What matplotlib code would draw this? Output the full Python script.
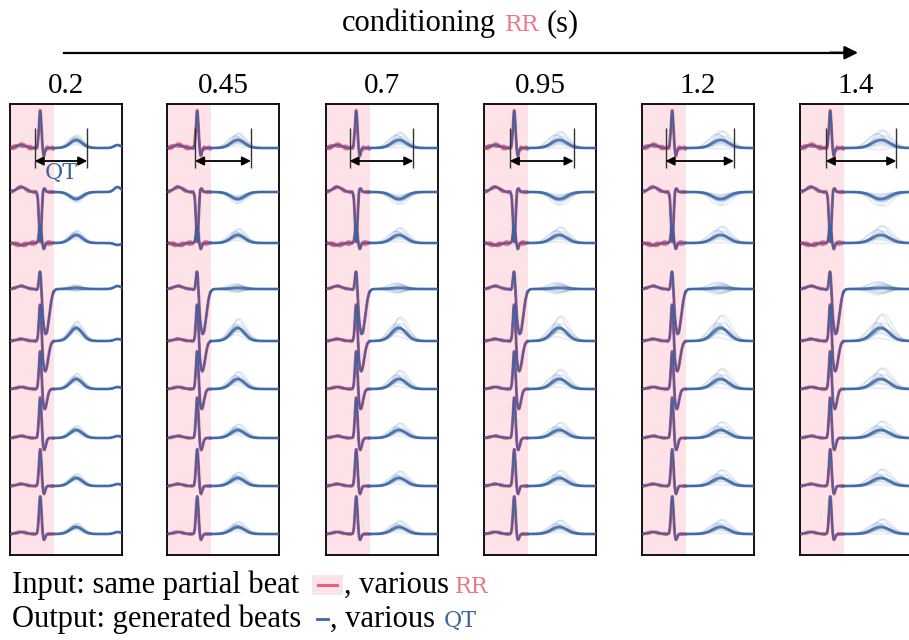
import numpy as np
import matplotlib
matplotlib.use("Agg")
import matplotlib.pyplot as plt
from matplotlib.lines import Line2D
from matplotlib.patches import Rectangle

W, H = 909, 640

# conditioning RR values, one panel each
rr_values = ["0.2", "0.45", "0.7", "0.95", "1.2", "1.4"]
# QT bracket (fraction of panel width) and T-wave peak position per panel
qt_start = [0.22, 0.25, 0.21, 0.23, 0.21, 0.23]
qt_end = [0.69, 0.75, 0.78, 0.80, 0.82, 0.86]
t_peak = [0.59, 0.63, 0.65, 0.67, 0.70, 0.72]
t_width = [0.055, 0.062, 0.066, 0.07, 0.073, 0.078]
panel_spread = [0.6, 0.85, 1.0, 1.1, 1.2, 1.3]
next_p = [1, 0, 0, 0, 0, 0]

# per-lead wave amplitudes (pixels, up = positive)
lead_p_amp = [3, 5, -2, 3, 2, 2, 2, 2, 2]
lead_r_amp = [37, -50, 17, 28, 42, 40, 41, 37, 38]
lead_s_amp = [-8, 4, -6, -45, -30, -20, -12, -8, -6]
lead_s_wid = [0.010, 0.012, 0.010, 0.030, 0.025, 0.020, 0.015, 0.012, 0.012]
lead_t_amp = [8, -7, 8, 1, 13, 10, 8, 8, 7]
lead_t_var = [5, 3, 4, 5, 4, 4, 3, 3, 3]
lead_noise = [1.5, 0.8, 1.5, 0.5, 0.5, 0.5, 0.5, 0.5, 0.5]

# generated-sample variations
sample_scale = [0.7, 0.78, 0.85, 0.9, 0.92, 0.95, 1.0, 1.0, 1.03, 1.05, 1.1, 1.15, 1.22, 1.35, 1.55, 1.8]
sample_var = [-1, 0.6, -0.4, 0.2, -0.8, 1.0, 0.0, -0.2, 0.4, -0.6, 0.8, -0.1, 0.3, -0.9, 0.7, 0.1]
sample_shift = [-0.025, 0.01, -0.01, 0.02, 0.0, -0.02, 0.005, 0.025, -0.005, 0.012, -0.025, 0.0, 0.018, -0.012, 0.006, 0.02]
sample_width = [1.0, 0.9, 1.1, 1.0, 0.95, 1.05, 1.0, 1.15, 0.9, 1.0, 1.05, 0.9, 1.1, 1.0, 0.85, 1.0]

# layout (pixels)
lead_rows = [148, 192, 243, 289, 341, 389, 438, 486, 534]
panel_left = [10, 167, 326, 484, 642, 800]
panel_w, panel_top, panel_bot = 112, 104, 555
pink_end = 0.39
r_pos = 0.27

pink = "#fde3e8"
red = "#ef5270"
blue = "#3a66a6"
rr_col = "#e8788a"
qt_col = "#3a64a0"

plt.rcParams["font.family"] = ["Liberation Serif", "DejaVu Serif"]

x = np.linspace(0, 1, 500)


def g(c, s):
    return np.exp(-0.5 * ((x - c) / s) ** 2)


def beat(j, i, ts=1.0, tv=0.0, sh=0.0, wd=1.0):
    y = lead_p_amp[j] * g(0.1, 0.04)
    y += lead_r_amp[j] * g(r_pos, 0.011)
    y += lead_s_amp[j] * g(r_pos + 0.02 + lead_s_wid[j], lead_s_wid[j])
    y += (lead_t_amp[j] * ts + lead_t_var[j] * tv) * g(t_peak[i] + sh, t_width[i] * wd)
    y += next_p[i] * lead_p_amp[j] * g(0.96, 0.03)
    return y


fig = plt.figure(figsize=(W / 100, H / 100), dpi=100)

for i, rr in enumerate(rr_values):
    ax = fig.add_axes([panel_left[i] / W, 1 - panel_bot / H, panel_w / W, (panel_bot - panel_top) / H])
    ax.set_xlim(0, 1)
    ax.set_ylim(-panel_bot, -panel_top)
    ax.set_xticks([])
    ax.set_yticks([])
    for sp in ax.spines.values():
        sp.set_linewidth(1.3)
    ax.axvspan(0, pink_end, color=pink, zorder=0, lw=0)
    inp = x <= pink_end
    for j, row in enumerate(lead_rows):
        base = beat(j, i)
        noise = lead_noise[j] * np.sin(2 * np.pi * 55 * x) * np.sin(2 * np.pi * 7 * x + j)
        ax.plot(x[inp], -row + base[inp] + noise[inp], color=red, lw=2.2, alpha=0.9, zorder=2)
        sp_ = panel_spread[i]
        for k in range(len(sample_scale)):
            yk = beat(j, i, 1 + (sample_scale[k] - 1) * sp_, sample_var[k] * sp_,
                      sample_shift[k] * sp_, sample_width[k])
            ax.plot(x, -row + yk, color=blue, lw=1.2, alpha=0.12, zorder=3)
        ax.plot(x[~inp], -row + base[~inp], color=blue, lw=2.0, alpha=0.8, zorder=4)
        ax.plot(x[inp], -row + base[inp], color=blue, lw=0.8, alpha=0.5, zorder=4)
    # QT bracket
    ax.vlines([qt_start[i], qt_end[i]], -168, -128, color="#333333", lw=1.0, zorder=5)
    ax.annotate("", xy=(qt_end[i], -161), xytext=(qt_start[i], -161),
                arrowprops=dict(arrowstyle="<|-|>", color="black", lw=1.3,
                                mutation_scale=13, shrinkA=0, shrinkB=0), zorder=6)
    if i == 0:
        ax.text((qt_start[i] + qt_end[i]) / 2, -173, "QT", color=qt_col, ha="center", va="center",
                fontsize=16, family="DejaVu Serif")
    fig.text((panel_left[i] + panel_w / 2) / W, 1 - 93 / H, rr, ha="center", va="baseline", fontsize=21)

# top arrow and title
fig.add_artist(Line2D([64 / W, 850 / W], [1 - 52.7 / H] * 2, color="black", lw=1.6))
ax_top = fig.add_axes([0, 0, 1, 1], facecolor="none")
ax_top.set_axis_off()
ax_top.set_xlim(0, W)
ax_top.set_ylim(H, 0)
ax_top.annotate("", xy=(858, 52.7), xytext=(830, 52.7),
                arrowprops=dict(arrowstyle="-|>", color="black", lw=1.6, mutation_scale=20,
                                shrinkA=0, shrinkB=0))


def ftxt(px, py, s, **kw):
    fig.text(px / W, 1 - py / H, s, ha="left", va="baseline", **kw)


ftxt(342, 31, "conditioning", fontsize=22)
ftxt(505, 31, "RR", fontsize=16.5, color=rr_col, family="DejaVu Serif")
ftxt(547, 31, "(s)", fontsize=22)

# bottom legend lines
ftxt(12, 593, "Input: same partial beat", fontsize=22)
fig.add_artist(Rectangle((312 / W, 1 - 595 / H), 31 / W, 20 / H, transform=fig.transFigure,
                         color=pink, lw=0))
fig.add_artist(Line2D([318 / W, 337 / W], [1 - 585 / H] * 2, color=red, lw=2))
ftxt(344, 593, ", various", fontsize=22)
ftxt(455, 593, "RR", fontsize=16, color=rr_col, family="DejaVu Serif")

ftxt(12, 627, "Output: generated beats", fontsize=22)
fig.add_artist(Line2D([317 / W, 328 / W], [1 - 619 / H] * 2, color=blue, lw=2))
ftxt(330, 627, ", various", fontsize=22)
ftxt(444, 627, "QT", fontsize=16, color=qt_col, family="DejaVu Serif")

fig.savefig("out.png", dpi=100)
